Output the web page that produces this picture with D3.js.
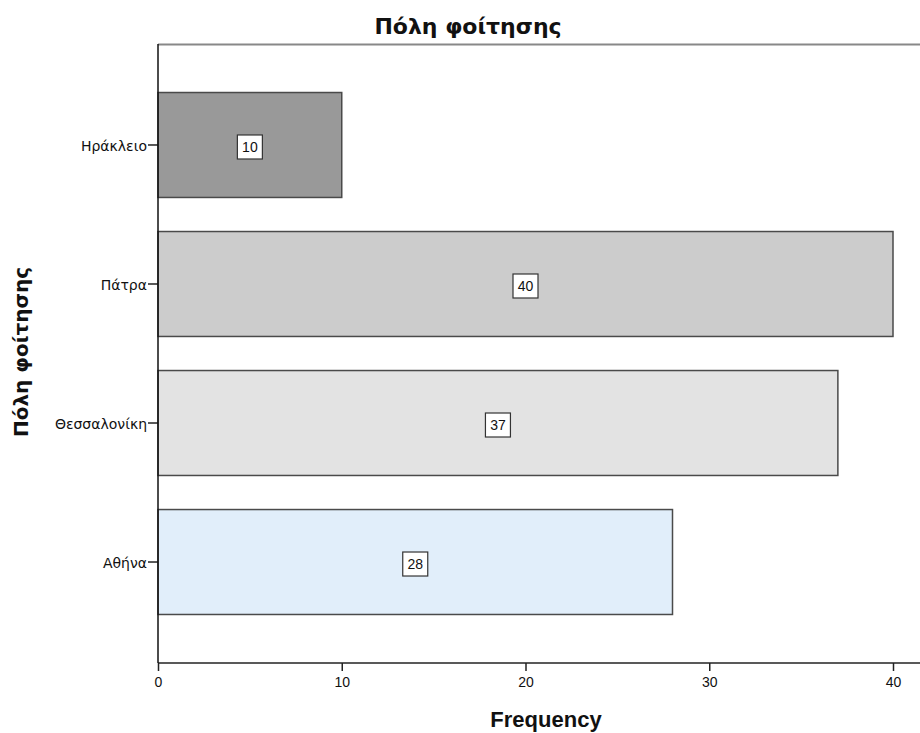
<!DOCTYPE html>
<html>
<head>
<meta charset="utf-8">
<script src="https://cdn.jsdelivr.net/npm/d3@7"></script>
<style>
body { margin: 0; background: #fff; }
svg { display: block; }
</style>
</head>
<body>
<svg id="chart" width="920" height="733"></svg>
<script>
const categories = ["Ηράκλειο", "Πάτρα", "Θεσσαλονίκη", "Αθήνα"];
const values = [10, 40, 37, 28];
const barColors = ["#999999", "#cccccc", "#e3e3e3", "#e1eefa"];
const xTicks = [0, 10, 20, 30, 40];
const title = "Πόλη φοίτησης";
const yTitle = "Πόλη φοίτησης";
const xTitle = "Frequency";

const svg = d3.select("#chart");
const mLeft = 158, mRight = 920, mTop = 44, mBottom = 663;

const x = d3.scaleLinear().domain([0, 40]).range([mLeft, 893]);
const y = d3.scaleBand().domain(categories).range([mTop, mBottom])
  .paddingInner(0.245).paddingOuter(0.349);

// top frame line
svg.append("line").attr("x1", mLeft).attr("x2", mRight).attr("y1", mTop + 0.5).attr("y2", mTop + 0.5)
  .attr("stroke", "#888").attr("stroke-width", 2);

// bars
svg.selectAll("rect.bar").data(categories).enter().append("rect")
  .attr("class", "bar")
  .attr("x", x(0))
  .attr("y", d => y(d))
  .attr("width", (d, i) => x(values[i]) - x(0))
  .attr("height", y.bandwidth())
  .attr("fill", (d, i) => barColors[i])
  .attr("stroke", "#4a4a4a").attr("stroke-width", 1.5);

// x axis
const xAxis = svg.append("g").attr("transform", `translate(0,${mBottom})`)
  .call(d3.axisBottom(x).tickValues(xTicks).tickSize(8).tickSizeOuter(0));
xAxis.select(".domain").remove();
xAxis.append("line").attr("x1", mLeft).attr("x2", mRight).attr("y1", 0).attr("y2", 0)
  .attr("stroke", "#222").attr("stroke-width", 1.5);
xAxis.selectAll(".tick line").attr("stroke", "#222").attr("stroke-width", 1.5);
xAxis.selectAll(".tick text").attr("fill", "#111")
  .style("font-family", "'Liberation Sans Narrow', 'Arial Narrow', 'Liberation Sans', sans-serif")
  .style("font-size", "14px").attr("dy", "0.9em");

// y axis
const yAxis = svg.append("g").attr("transform", `translate(${mLeft},0)`)
  .call(d3.axisLeft(y).tickSize(10).tickSizeOuter(0));
yAxis.select(".domain").remove();
yAxis.append("line").attr("x1", 0).attr("x2", 0).attr("y1", mTop).attr("y2", mBottom)
  .attr("stroke", "#111").attr("stroke-width", 1.5);
yAxis.selectAll(".tick line").attr("stroke", "#222").attr("stroke-width", 1.5);
yAxis.selectAll(".tick text").attr("fill", "#111").attr("x", -11).attr("dy", "0.45em")
  .style("font-family", "'DejaVu Sans', sans-serif").style("font-size", "14px");

// value labels
const lab = svg.selectAll("g.lab").data(categories).enter().append("g")
  .attr("class", "lab")
  .attr("transform", (d, i) => `translate(${x(values[i] / 2)},${y(d) + y.bandwidth() / 2 + 2})`);
lab.append("rect").attr("x", -12.5).attr("y", -12).attr("width", 25).attr("height", 24)
  .attr("fill", "#fff").attr("stroke", "#333").attr("stroke-width", 1.2);
lab.append("text").text((d, i) => values[i])
  .attr("text-anchor", "middle").attr("dy", "0.36em")
  .style("font-family", "'Liberation Sans', Arial, sans-serif").style("font-size", "14px")
  .attr("fill", "#111");

// titles
svg.append("text").text(title).attr("x", 468).attr("y", 34).attr("text-anchor", "middle")
  .style("font-family", "'DejaVu Sans', sans-serif").style("font-weight", "bold").style("font-size", "22px")
  .attr("fill", "#111");
svg.append("text").text(yTitle)
  .attr("transform", "translate(28,352) rotate(-90)").attr("text-anchor", "middle")
  .style("font-family", "'DejaVu Sans', sans-serif").style("font-weight", "bold").style("font-size", "20px")
  .attr("fill", "#111");
svg.append("text").text(xTitle).attr("x", 546).attr("y", 727).attr("text-anchor", "middle")
  .style("font-family", "'Liberation Sans Narrow', 'Arial Narrow', 'Liberation Sans', sans-serif")
  .style("font-weight", "bold").style("font-size", "22px").attr("fill", "#111");
</script>
</body>
</html>
